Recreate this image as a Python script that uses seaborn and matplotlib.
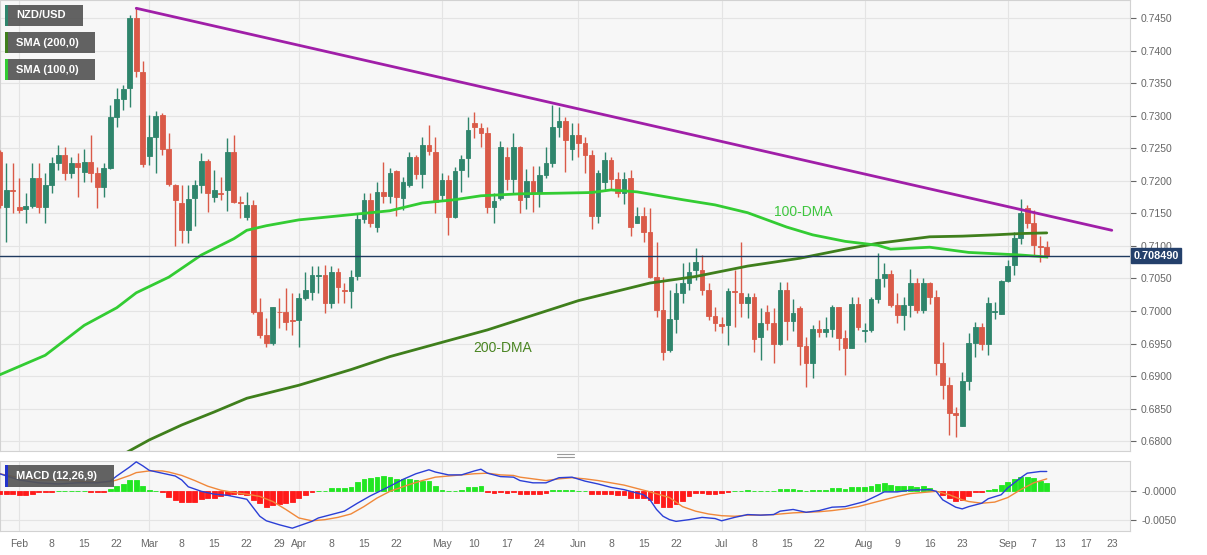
import numpy as np
import pandas as pd
import matplotlib
matplotlib.use('Agg')
import matplotlib.pyplot as plt
from matplotlib.patches import Rectangle
from matplotlib.lines import Line2D
import seaborn as sns

# NZD/USD daily candles, 27 Jan 2021 - 9 Sep 2021 (one per trading day)
opens = [0.7244, 0.7160, 0.7186, 0.7160, 0.7157, 0.7161, 0.7204, 0.7160, 0.7194, 0.7227,
         0.7240, 0.7212, 0.7227, 0.7214, 0.7229, 0.7212, 0.7191, 0.7220, 0.7298, 0.7326,
         0.7343, 0.7450, 0.7367, 0.7238, 0.7267, 0.7301, 0.7249, 0.7194, 0.7166, 0.7125,
         0.7174, 0.7194, 0.7231, 0.7175, 0.7182, 0.7186, 0.7244, 0.7168, 0.7144, 0.7163,
         0.6998, 0.6963, 0.6951, 0.6999, 0.6998, 0.6986, 0.6986, 0.7020, 0.7029, 0.7054,
         0.7055, 0.7012, 0.7060, 0.7032, 0.7031, 0.7054, 0.7141, 0.7171, 0.7129, 0.7183,
         0.7177, 0.7215, 0.7174, 0.7194, 0.7237, 0.7211, 0.7255, 0.7244, 0.7178, 0.7201,
         0.7144, 0.7217, 0.7235, 0.7289, 0.7281, 0.7274, 0.7160, 0.7174, 0.7237, 0.7203,
         0.7252, 0.7175, 0.7200, 0.7181, 0.7209, 0.7227, 0.7283, 0.7292, 0.7249, 0.7270,
         0.7258, 0.7240, 0.7146, 0.7198, 0.7232, 0.7203, 0.7181, 0.7204, 0.7135, 0.7146,
         0.7121, 0.7052, 0.7001, 0.6940, 0.6988, 0.7028, 0.7043, 0.7063, 0.7063, 0.7032,
         0.6992, 0.6980, 0.6978, 0.7031, 0.7028, 0.7012, 0.7021, 0.6960, 0.6998, 0.6982,
         0.6949, 0.7032, 0.6985, 0.7005, 0.6946, 0.6920, 0.6972, 0.6968, 0.6972, 0.7006,
         0.6958, 0.6943, 0.7011, 0.6969, 0.6971, 0.7018, 0.7051, 0.7057, 0.7009, 0.6994,
         0.7009, 0.7043, 0.7001, 0.7043, 0.7021, 0.6920, 0.6886, 0.6843, 0.6823, 0.6892,
         0.6951, 0.6975, 0.6949, 0.6998, 0.6995, 0.7046, 0.7071, 0.7112, 0.7158, 0.7135,
         0.7100, 0.7098]
highs = [0.7247, 0.7227, 0.7227, 0.7204, 0.7181, 0.7227, 0.7227, 0.7212, 0.7237, 0.7255,
         0.7252, 0.7237, 0.7243, 0.7249, 0.7270, 0.7221, 0.7227, 0.7317, 0.7343, 0.7347,
         0.7455, 0.7465, 0.7384, 0.7301, 0.7307, 0.7304, 0.7274, 0.7195, 0.7194, 0.7194,
         0.7201, 0.7243, 0.7234, 0.7217, 0.7206, 0.7266, 0.7270, 0.7177, 0.7183, 0.7171,
         0.7020, 0.6989, 0.7006, 0.7020, 0.7035, 0.7028, 0.7028, 0.7060, 0.7069, 0.7069,
         0.7071, 0.7069, 0.7066, 0.7043, 0.7063, 0.7150, 0.7181, 0.7181, 0.7198, 0.7229,
         0.7220, 0.7217, 0.7206, 0.7244, 0.7240, 0.7267, 0.7286, 0.7267, 0.7212, 0.7209,
         0.7221, 0.7240, 0.7298, 0.7306, 0.7289, 0.7283, 0.7181, 0.7261, 0.7252, 0.7274,
         0.7254, 0.7218, 0.7223, 0.7223, 0.7252, 0.7317, 0.7314, 0.7298, 0.7289, 0.7289,
         0.7267, 0.7247, 0.7217, 0.7244, 0.7237, 0.7214, 0.7214, 0.7217, 0.7160, 0.7160,
         0.7158, 0.7106, 0.7052, 0.7032, 0.7043, 0.7074, 0.7075, 0.7097, 0.7086, 0.7043,
         0.7006, 0.6991, 0.7035, 0.7063, 0.7106, 0.7028, 0.7028, 0.7005, 0.7009, 0.7005,
         0.7045, 0.7045, 0.7018, 0.7008, 0.6960, 0.6978, 0.6986, 0.6991, 0.7009, 0.7006,
         0.6971, 0.7021, 0.7021, 0.6982, 0.7021, 0.7089, 0.7074, 0.7063, 0.7028, 0.7021,
         0.7065, 0.7051, 0.7051, 0.7045, 0.7032, 0.6952, 0.6899, 0.6852, 0.6906, 0.6966,
         0.6983, 0.6982, 0.7021, 0.7014, 0.7048, 0.7078, 0.7121, 0.7172, 0.7163, 0.7155,
         0.7115, 0.7108]
lows = [0.7158, 0.7106, 0.7150, 0.7150, 0.7135, 0.7158, 0.7150, 0.7135, 0.7181, 0.7217,
        0.7201, 0.7204, 0.7175, 0.7198, 0.7198, 0.7158, 0.7175, 0.7218, 0.7283, 0.7309,
        0.7314, 0.7360, 0.7221, 0.7224, 0.7212, 0.7240, 0.7192, 0.7100, 0.7105, 0.7105,
        0.7131, 0.7181, 0.7152, 0.7168, 0.7171, 0.7154, 0.7166, 0.7143, 0.7140, 0.6995,
        0.6958, 0.6945, 0.6948, 0.6974, 0.6971, 0.6963, 0.6945, 0.7017, 0.7017, 0.7028,
        0.6997, 0.7005, 0.7012, 0.7012, 0.7005, 0.7048, 0.7135, 0.7129, 0.7121, 0.7166,
        0.7166, 0.7146, 0.7155, 0.7191, 0.7203, 0.7189, 0.7240, 0.7150, 0.7171, 0.7117,
        0.7143, 0.7183, 0.7206, 0.7266, 0.7252, 0.7150, 0.7135, 0.7171, 0.7186, 0.7181,
        0.7150, 0.7157, 0.7152, 0.7160, 0.7204, 0.7221, 0.7267, 0.7214, 0.7232, 0.7237,
        0.7212, 0.7126, 0.7135, 0.7186, 0.7186, 0.7175, 0.7164, 0.7115, 0.7135, 0.7106,
        0.7050, 0.6991, 0.6925, 0.6937, 0.6966, 0.7012, 0.7032, 0.7048, 0.7025, 0.6986,
        0.6969, 0.6966, 0.6948, 0.6975, 0.6991, 0.6989, 0.6937, 0.6925, 0.6971, 0.6920,
        0.6948, 0.6955, 0.6969, 0.6917, 0.6883, 0.6897, 0.6960, 0.6960, 0.6960, 0.6940,
        0.6902, 0.6943, 0.6971, 0.6952, 0.6968, 0.7012, 0.7037, 0.7006, 0.6982, 0.6971,
        0.6991, 0.6997, 0.6997, 0.7011, 0.6902, 0.6865, 0.6809, 0.6806, 0.6823, 0.6879,
        0.6929, 0.6940, 0.6932, 0.6988, 0.6995, 0.7045, 0.7055, 0.7103, 0.7128, 0.7086,
        0.7075, 0.7081]
closes = [0.7163, 0.7186, 0.7185, 0.7155, 0.7161, 0.7204, 0.7160, 0.7194, 0.7227, 0.7240,
          0.7212, 0.7227, 0.7221, 0.7229, 0.7212, 0.7191, 0.7220, 0.7298, 0.7326, 0.7341,
          0.7450, 0.7369, 0.7226, 0.7267, 0.7300, 0.7249, 0.7195, 0.7171, 0.7125, 0.7172,
          0.7194, 0.7231, 0.7181, 0.7186, 0.7180, 0.7244, 0.7168, 0.7166, 0.7163, 0.6998,
          0.6963, 0.6951, 0.7006, 0.6998, 0.6983, 0.6985, 0.7020, 0.7032, 0.7055, 0.7055,
          0.7012, 0.7060, 0.7037, 0.7031, 0.7052, 0.7141, 0.7171, 0.7135, 0.7183, 0.7177,
          0.7212, 0.7175, 0.7198, 0.7237, 0.7211, 0.7255, 0.7246, 0.7168, 0.7201, 0.7144,
          0.7215, 0.7234, 0.7278, 0.7283, 0.7274, 0.7160, 0.7169, 0.7252, 0.7203, 0.7252,
          0.7171, 0.7200, 0.7181, 0.7209, 0.7227, 0.7283, 0.7292, 0.7263, 0.7270, 0.7258,
          0.7240, 0.7146, 0.7212, 0.7232, 0.7203, 0.7181, 0.7203, 0.7129, 0.7146, 0.7121,
          0.7052, 0.7001, 0.6937, 0.6988, 0.7028, 0.7043, 0.7060, 0.7075, 0.7032, 0.6992,
          0.6982, 0.6977, 0.7031, 0.7029, 0.7012, 0.7021, 0.6957, 0.6982, 0.6982, 0.6949,
          0.7032, 0.6985, 0.6997, 0.6946, 0.6920, 0.6972, 0.6968, 0.6972, 0.7006, 0.6958,
          0.6943, 0.7011, 0.6975, 0.6971, 0.7018, 0.7049, 0.7057, 0.7009, 0.6994, 0.7009,
          0.7043, 0.7001, 0.7043, 0.7021, 0.6920, 0.6886, 0.6843, 0.6840, 0.6892, 0.6951,
          0.6975, 0.6949, 0.7012, 0.7000, 0.7046, 0.7069, 0.7112, 0.7150, 0.7135, 0.7101,
          0.7098, 0.7085]
last_price = 0.708490

# moving averages (trading-day number, value)
sma100_day = [0, 7, 13, 18, 21, 26, 31, 36, 38, 41, 46, 55, 60, 65, 70, 74, 80, 86, 91, 94,
              98, 105, 110, 115, 118, 121, 125, 130, 135, 137, 143, 146, 149, 153, 157, 161]
sma100_val = [0.6902, 0.6932, 0.6978, 0.7005, 0.7028, 0.7052, 0.7086, 0.7111, 0.7124, 0.7131,
              0.7140, 0.7149, 0.7154, 0.7166, 0.7171, 0.7177, 0.7180, 0.7181, 0.7182, 0.7186,
              0.7183, 0.7171, 0.7163, 0.7151, 0.7140, 0.7129, 0.7117, 0.7107, 0.7101, 0.7095,
              0.7098, 0.7094, 0.7090, 0.7088, 0.7086, 0.7083]
sma200_day = [19, 23, 28, 33, 38, 46, 54, 60, 75, 89, 100, 107, 115, 123, 130, 135, 143, 148,
              153, 157, 161]
sma200_val = [0.6780, 0.6802, 0.6825, 0.6845, 0.6866, 0.6886, 0.6910, 0.6930, 0.6971, 0.7016,
              0.7043, 0.7053, 0.7069, 0.7081, 0.7095, 0.7104, 0.7114, 0.7115, 0.7117, 0.7119,
              0.7120]
trend_day = [21, 171]
trend_val = [0.7465, 0.7124]

# MACD (12,26,9)
macd_day = [0, 3, 6, 9, 12, 15, 17, 18, 20, 21, 22, 23, 25, 27, 28, 29, 31, 33, 35, 38,
            40, 41, 43, 45, 46, 48, 49, 51, 53, 55, 57, 60, 62, 64, 66, 67, 69, 71, 73, 74,
            75, 77, 79, 80, 82, 84, 86, 88, 90, 92, 94, 96, 98, 99, 100, 101, 102, 103, 104, 106,
            108, 110, 111, 113, 115, 117, 119, 120, 122, 124, 126, 128, 130, 132, 133, 135, 136, 138, 140, 143,
            144, 145, 147, 148, 149, 151, 152, 154, 155, 157, 158, 160, 161]
macd_val = [0.0031, 0.0020, 0.0015, 0.0013, 0.0015, 0.0015, 0.0018, 0.0027, 0.0043, 0.0052,
            0.0045, 0.0037, 0.0032, 0.0027, 0.0020, 0.0008, 0.0000, -0.0005, -0.0007, -0.0014,
            -0.0044, -0.0052, -0.0059, -0.0065, -0.0061, -0.0053, -0.0047, -0.0041, -0.0035, -0.0021,
            -0.0008, 0.0009, 0.0021, 0.0031, 0.0038, 0.0034, 0.0029, 0.0029, 0.0036, 0.0039,
            0.0032, 0.0026, 0.0025, 0.0019, 0.0015, 0.0015, 0.0024, 0.0025, 0.0018, 0.0013,
            0.0007, 0.0003, -0.0003, -0.0006, -0.0015, -0.0032, -0.0044, -0.0050, -0.0053, -0.0050,
            -0.0046, -0.0048, -0.0052, -0.0046, -0.0041, -0.0042, -0.0041, -0.0035, -0.0032, -0.0037,
            -0.0034, -0.0028, -0.0027, -0.0021, -0.0018, -0.0007, -0.0001, -0.0001, 0.0002, 0.0003,
            0.0000, -0.0015, -0.0028, -0.0031, -0.0027, -0.0021, -0.0013, -0.0006, 0.0006, 0.0024,
            0.0032, 0.0035, 0.0035]
signal_day = [0, 3, 6, 9, 12, 15, 17, 18, 20, 21, 23, 25, 26, 28, 30, 32, 34, 36, 38, 40,
              42, 44, 46, 48, 50, 52, 54, 56, 58, 60, 63, 65, 67, 69, 71, 73, 75, 77, 79, 80,
              82, 84, 86, 88, 90, 92, 94, 96, 98, 100, 103, 105, 107, 109, 111, 113, 115, 117, 119, 120,
              122, 124, 126, 128, 130, 132, 134, 136, 138, 140, 143, 144, 146, 148, 149, 151, 153, 155, 157, 159,
              161]
signal_val = [0.0031, 0.0024, 0.0020, 0.0020, 0.0018, 0.0016, 0.0017, 0.0020, 0.0028, 0.0033,
              0.0036, 0.0036, 0.0034, 0.0028, 0.0019, 0.0009, 0.0002, -0.0002, -0.0005, -0.0009,
              -0.0018, -0.0032, -0.0047, -0.0052, -0.0050, -0.0046, -0.0040, -0.0027, -0.0012, 0.0000,
              0.0012, 0.0019, 0.0025, 0.0027, 0.0029, 0.0031, 0.0032, 0.0029, 0.0028, 0.0025,
              0.0022, 0.0019, 0.0022, 0.0024, 0.0022, 0.0019, 0.0015, 0.0011, 0.0005, -0.0001,
              -0.0011, -0.0027, -0.0035, -0.0040, -0.0043, -0.0044, -0.0042, -0.0042, -0.0041, -0.0040,
              -0.0038, -0.0037, -0.0036, -0.0034, -0.0031, -0.0027, -0.0021, -0.0015, -0.0009, -0.0004,
              -0.0001, 0.0000, -0.0006, -0.0015, -0.0018, -0.0021, -0.0019, -0.0011, 0.0003, 0.0015,
              0.0022]
hist = [-0.0004, -0.0004, -0.0005, -0.0006, -0.0006, -0.0004, -0.0002, -0.0001, -0.0001, 0.00005,
        0.00005, 0.00005, 0.00005, 0.00005, -0.00005, -0.0001, -0.0001, 0.0004, 0.0009, 0.0013,
        0.0020, 0.0020, 0.0009, 0.0002, 0.00005, -0.0002, -0.0010, -0.0015, -0.0019, -0.0019,
        -0.0018, -0.0013, -0.0012, -0.0011, -0.0009, -0.0006, -0.0005, -0.0005, -0.0006, -0.0015,
        -0.0021, -0.0027, -0.0024, -0.0022, -0.0020, -0.0018, -0.0011, -0.0006, -0.0001, 0.0001,
        0.0001, 0.0005, 0.0006, 0.0006, 0.0008, 0.0016, 0.0022, 0.0024, 0.0025, 0.0027,
        0.0025, 0.0022, 0.0022, 0.0022, 0.0020, 0.0019, 0.0019, 0.0009, 0.0003, 0.00005,
        0.00005, 0.0003, 0.0008, 0.0008, 0.0009, -0.00005, -0.0003, -0.0002, -0.0003, -0.0002,
        -0.0005, -0.0005, -0.0005, -0.0004, -0.0003, 0.0003, 0.0003, 0.0003, 0.0002, 0.00005,
        0.00005, -0.0005, -0.0004, -0.0004, -0.0005, -0.0006, -0.0006, -0.0011, -0.0012, -0.0011,
        -0.0015, -0.0021, -0.0028, -0.0027, -0.0022, -0.0017, -0.0009, -0.0003, -0.0003, -0.0004,
        -0.0004, -0.0003, -0.0001, 0.0001, 0.0001, 0.0003, 0.00005, 0.00005, 0.00005, 0.00005,
        0.0004, 0.0004, 0.0004, 0.0002, 0.00005, 0.0002, 0.0002, 0.0003, 0.0006, 0.0005,
        0.0004, 0.0007, 0.0007, 0.0007, 0.0010, 0.0013, 0.0015, 0.0012, 0.0010, 0.0009,
        0.0009, 0.0008, 0.0009, 0.0006, 0.00005, -0.0006, -0.0012, -0.0017, -0.0015, -0.0008,
        -0.0002, -0.00005, 0.0002, 0.0004, 0.0011, 0.0017, 0.0021, 0.0025, 0.0025, 0.0023,
        0.0019, 0.0014]

# x axis labels
label_dates = ['2021-02-01', '2021-02-08', '2021-02-15', '2021-02-22', '2021-03-01', '2021-03-08',
               '2021-03-15', '2021-03-22', '2021-03-29', '2021-04-01', '2021-04-08', '2021-04-15',
               '2021-04-22', '2021-05-03', '2021-05-10', '2021-05-17', '2021-05-24', '2021-06-01',
               '2021-06-08', '2021-06-15', '2021-06-22', '2021-07-01', '2021-07-08', '2021-07-15',
               '2021-07-22', '2021-08-02', '2021-08-09', '2021-08-16', '2021-08-23', '2021-09-01',
               '2021-09-07', '2021-09-13', '2021-09-17', '2021-09-23']
label_text = ['Feb', '8', '15', '22', 'Mar', '8', '15', '22', '29', 'Apr', '8', '15', '22', 'May',
              '10', '17', '24', 'Jun', '8', '15', '22', 'Jul', '8', '15', '22', 'Aug', '9', '16',
              '23', 'Sep', '7', '13', '17', '23']
month_dates = ['2021-02-01', '2021-03-01', '2021-04-01', '2021-05-03', '2021-06-01',
               '2021-07-01', '2021-08-02', '2021-09-01']

BULL = '#2f856c'
BEAR = '#da5a48'
GRID = '#e4e4e4'
TICK = '#666666'

sns.set_style('white')
plt.rcParams['font.family'] = ['Liberation Sans', 'DejaVu Sans']

days = pd.bdate_range('2021-01-27', '2021-09-30')
o = np.array(opens); h = np.array(highs); l = np.array(lows); c = np.array(closes)
idx = np.arange(len(c))
tick_pos = days.get_indexer(pd.to_datetime(label_dates))
month_pos = days.get_indexer(pd.to_datetime(month_dates))

W, H = 1207, 555
fig = plt.figure(figsize=(W / 100, H / 100), dpi=100)
fig.patch.set_facecolor('white')
ax = fig.add_axes([0, 104 / H, 1130 / W, 451 / H])
axm = fig.add_axes([0, 24 / H, 1130 / W, 70 / H], sharex=ax)

for a in (ax, axm):
    a.set_facecolor('#f7f7f7')
    for s in a.spines.values():
        s.set_color('#d2d2d2')
        s.set_linewidth(0.8)
    for p in month_pos:
        a.axvline(p, color=GRID, lw=0.8, zorder=0)

# candles
up = c >= o
col = np.where(up, BULL, BEAR)
ax.vlines(idx, l, h, colors=col, lw=1, zorder=3)
ax.bar(idx, np.abs(c - o), bottom=np.minimum(o, c), width=0.72, color=col,
       edgecolor=col, lw=0.6, zorder=4)

sns.lineplot(x=sma200_day, y=sma200_val, ax=ax, color='#3f7f1c', lw=2, zorder=5)
sns.lineplot(x=sma100_day, y=sma100_val, ax=ax, color='#33cc33', lw=2, zorder=5)
sns.lineplot(x=trend_day, y=trend_val, ax=ax, color='#a01fa8', lw=2, zorder=5)
ax.axhline(last_price, color='#1f3a5f', lw=1, zorder=6)

ax.text(123.5, 0.7152, '100-DMA', color='#3ec63e', fontsize=10, ha='center', va='center', zorder=7)
ax.text(77.4, 0.6943, '200-DMA', color='#4a8522', fontsize=10, ha='center', va='center', zorder=7)

ax.set_xlim(0.05, 173.8)
ax.set_ylim(0.6785, 0.74777)
ax.set_yticks(np.arange(0.68, 0.74501, 0.005))
ax.yaxis.set_major_formatter(matplotlib.ticker.FormatStrFormatter('%.4f'))
ax.yaxis.tick_right()
ax.tick_params(axis='y', labelsize=7.5, colors=TICK, length=4, width=0.8, pad=4)
ax.tick_params(axis='x', bottom=False, labelbottom=False)
ax.grid(axis='y', color=GRID, lw=0.8, zorder=0)
ax.set_axisbelow(True)
ax.set_xlabel(''); ax.set_ylabel('')

ax.text(1.003, last_price, '0.708490', transform=ax.get_yaxis_transform(), fontsize=7.8,
        fontweight='bold', color='white', ha='left', va='center', zorder=8, clip_on=False,
        bbox=dict(boxstyle='square,pad=0.25', fc='#24406b', ec='#24406b'))

# MACD panel
hv = np.array(hist)
hcol = np.where(hv >= 0, '#22e622', '#ff1a1a')
axm.bar(idx, hv, width=0.72, color=hcol, edgecolor=hcol, lw=0.6, zorder=3)
sns.lineplot(x=signal_day, y=signal_val, ax=axm, color='#f0883a', lw=1, zorder=4)
sns.lineplot(x=macd_day, y=macd_val, ax=axm, color='#2b3fd6', lw=1, zorder=5)
axm.set_ylim(-0.0070, 0.00535)
axm.set_yticks([0, -0.005])
axm.set_yticklabels(['-0.0000', '-0.0050'])
axm.yaxis.tick_right()
axm.tick_params(axis='y', labelsize=7.5, colors=TICK, length=4, width=0.8, pad=4)
axm.grid(axis='y', color=GRID, lw=0.8, zorder=0)
axm.set_axisbelow(True)
axm.set_xticks(tick_pos)
axm.set_xticklabels(label_text)
axm.tick_params(axis='x', labelsize=7.5, colors=TICK, length=4, width=0.8, pad=1.5)
axm.set_xlabel(''); axm.set_ylabel('')


def label_box(x0, y0, x1, y1, text, accent):
    fig.add_artist(Rectangle((x0 / W, 1 - y1 / H), (x1 - x0) / W, (y1 - y0) / H,
                             transform=fig.transFigure, fc='#555555', ec='none', alpha=0.92, zorder=10))
    fig.add_artist(Rectangle((x0 / W, 1 - y1 / H), 2.5 / W, (y1 - y0) / H,
                             transform=fig.transFigure, fc=accent, ec='none', zorder=11))
    fig.text((x0 + 11) / W, 1 - (y0 + y1) / 2 / H, text, color='white', fontsize=8,
             fontweight='bold', ha='left', va='center', zorder=12)


label_box(5, 5, 83, 26, 'NZD/USD', BULL)
label_box(5, 32, 95, 53, 'SMA (200,0)', '#3f7f1c')
label_box(5, 59, 95, 80, 'SMA (100,0)', '#33cc33')
label_box(5, 465, 114, 487, 'MACD (12,26,9)', '#2233cc')

# panel splitter handle
for yy in (453.5, 456.5):
    fig.add_artist(Line2D([557 / W, 574 / W], [1 - yy / H, 1 - yy / H], transform=fig.transFigure,
                          color='#9a9a9a', lw=0.8, zorder=10))

fig.savefig('out.png', dpi=100, facecolor='white')
